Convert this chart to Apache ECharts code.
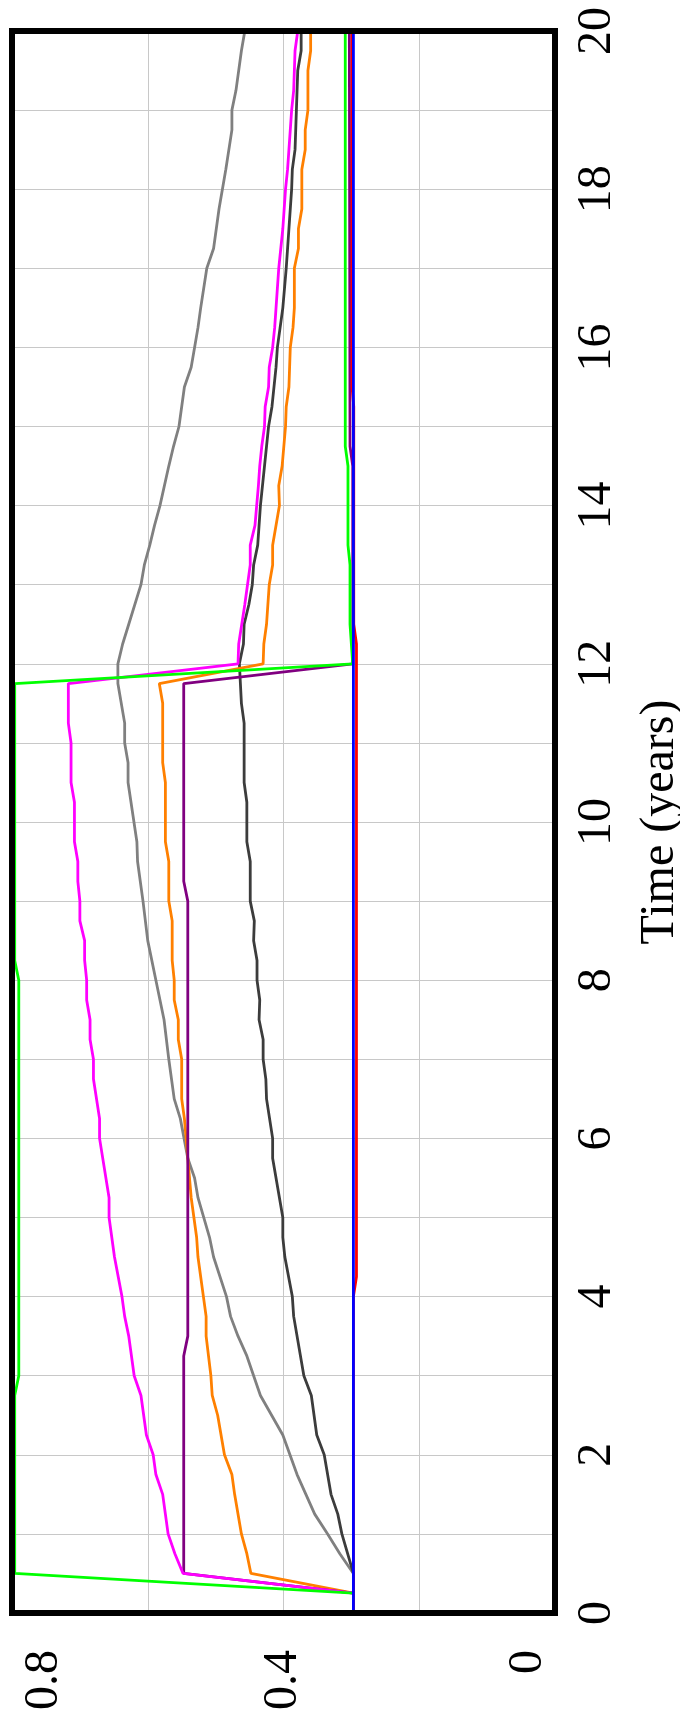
<!DOCTYPE html>
<html>
<head>
<meta charset="utf-8">
<script src="https://cdn.jsdelivr.net/npm/echarts@6/dist/echarts.min.js"></script>
<style>
html,body{margin:0;padding:0;background:#fff;}
#chart{width:680px;height:1725px;}
</style>
</head>
<body>
<div id="chart"></div>
<script>
// Time (years) for each series and the matching values
const grayT  = [0,0.25,0.5,0.75,1,1.25,1.5,1.75,2.25,2.75,3,3.25,3.5,3.75,4,4.5,4.75,5.25,5.5,5.75,6.25,6.5,7,7.5,8,8.5,9,9.5,9.75,10.5,10.75,11,11.25,11.75,12,12.25,12.5,13,13.25,13.5,13.75,14,14.5,14.75,15,15.5,15.75,16,16.25,16.5,17,17.25,17.75,18.25,18.75,19,19.25,19.75,20];
const grayV  = [0.297,0.297,0.297,0.317,0.335,0.354,0.367,0.38,0.401,0.434,0.444,0.454,0.467,0.478,0.484,0.503,0.509,0.526,0.531,0.541,0.552,0.561,0.569,0.576,0.588,0.6,0.607,0.615,0.616,0.629,0.629,0.634,0.634,0.644,0.644,0.637,0.628,0.61,0.605,0.597,0.59,0.582,0.569,0.562,0.554,0.546,0.536,0.531,0.526,0.522,0.513,0.503,0.495,0.485,0.476,0.476,0.47,0.462,0.457];

const darkT  = [0,0.25,0.5,1,1.25,1.5,2,2.25,2.75,3,3.75,4,4.5,4.75,5,5.5,5.75,6,6.5,6.75,7,7.25,7.5,7.75,8,8.25,8.5,8.75,9,9.5,9.75,10.25,10.5,11.25,11.5,12,12.25,12.5,12.75,13,13.25,13.5,14,14.5,15,15.25,15.75,16,16.25,16.5,17,17.5,18,18.25,18.5,19,19.5,19.75,20];
const darkV  = [0.297,0.297,0.297,0.314,0.32,0.33,0.34,0.351,0.359,0.37,0.385,0.387,0.398,0.401,0.401,0.411,0.416,0.416,0.425,0.426,0.43,0.43,0.436,0.435,0.439,0.439,0.444,0.443,0.449,0.449,0.454,0.454,0.458,0.458,0.462,0.465,0.459,0.458,0.451,0.446,0.444,0.438,0.434,0.428,0.422,0.417,0.411,0.409,0.405,0.401,0.396,0.392,0.388,0.387,0.383,0.381,0.379,0.374,0.374];

const orangeT = [0,0.25,0.5,0.75,1,1.5,1.75,2,2.5,2.75,3,3.5,3.75,4,4.5,4.75,5.25,5.75,6.25,6.5,7,7.25,7.5,7.75,8,8.25,8.75,9,9.5,9.75,10.5,10.75,11.5,11.75,12,12.25,12.5,13,13.25,13.5,14,14.25,14.5,15,15.25,15.5,16,16.25,16.5,17,17.25,17.5,17.75,18.25,18.5,18.75,19,19.5,19.75,20];
const orangeV = [0.297,0.297,0.448,0.454,0.462,0.472,0.476,0.487,0.497,0.505,0.507,0.514,0.514,0.518,0.526,0.528,0.536,0.541,0.546,0.55,0.55,0.555,0.555,0.561,0.561,0.564,0.564,0.569,0.569,0.574,0.574,0.578,0.578,0.583,0.43,0.429,0.425,0.421,0.416,0.416,0.406,0.407,0.402,0.397,0.396,0.392,0.39,0.386,0.384,0.384,0.378,0.378,0.373,0.373,0.368,0.368,0.364,0.364,0.36,0.36];

const purpleT = [0,0.25,0.5,3.25,3.5,9,9.25,11.75,12,14.5,14.75,20];
const purpleV = [0.297,0.297,0.547,0.547,0.541,0.541,0.547,0.547,0.298,0.298,0.302,0.303];

const magentaT = [0,0.25,0.5,0.75,1,1.25,1.5,1.75,2,2.25,2.75,3,3.5,3.75,4,4.5,5,5.25,6,6.25,6.75,7,7.25,7.5,7.75,8,8.25,8.5,8.75,9,9.25,9.5,9.75,10.25,10.5,11,11.25,11.75,12,12.25,12.75,13.25,13.5,13.75,14.25,14.5,14.75,15,15.25,15.5,15.75,16,16.25,16.5,17,17.5,18,18.25,18.5,19,19.25,19.75,20];
const magentaV = [0.297,0.297,0.548,0.56,0.57,0.574,0.578,0.588,0.592,0.602,0.61,0.62,0.628,0.634,0.638,0.649,0.657,0.657,0.671,0.671,0.68,0.68,0.685,0.685,0.69,0.69,0.693,0.693,0.7,0.7,0.703,0.703,0.708,0.708,0.713,0.713,0.717,0.717,0.467,0.466,0.457,0.449,0.449,0.442,0.437,0.435,0.432,0.428,0.427,0.422,0.421,0.416,0.413,0.411,0.407,0.401,0.397,0.394,0.392,0.388,0.385,0.383,0.379];

const greenT = [0,0.25,0.5,2.75,3,8,8.25,11.75,12,12.5,13.25,13.5,14.5,14.75,20];
const greenV = [0.297,0.297,0.796,0.796,0.790,0.790,0.796,0.796,0.298,0.302,0.302,0.305,0.305,0.309,0.309];

const redT = [0,4,4.25,12.25,12.5,15.25,15.5,20];
const redV = [0.297,0.297,0.2925,0.2925,0.2965,0.2965,0.299,0.299];

const blueT = [0,20];
const blueV = [0.297,0.297];

// axis ticks
const valueTicks = [0, 0.4, 0.8];
const timeTicks = [0,2,4,6,8,10,12,14,16,18,20];

const FONT = 'Liberation Serif';

function pts(T, V) { return T.map((t, i) => [V[i], t]); }

const lines = [
  { name: 'gray', T: grayT, V: grayV, color: '#808080' },
  { name: 'dark', T: darkT, V: darkV, color: '#3c3c3c' },
  { name: 'orange', T: orangeT, V: orangeV, color: '#ff8000' },
  { name: 'purple', T: purpleT, V: purpleV, color: '#800080' },
  { name: 'magenta', T: magentaT, V: magentaV, color: '#ff00ff' },
  { name: 'green', T: greenT, V: greenV, color: '#00ff00' },
  { name: 'red', T: redT, V: redV, color: '#ff0000' },
  { name: 'blue', T: blueT, V: blueV, color: '#0000ff' }
];

const chart = echarts.init(document.getElementById('chart'), null, { renderer: 'canvas' });
chart.setOption({
  animation: false,
  backgroundColor: '#fff',
  grid: {
    left: 12, right: 125, top: 31, bottom: 112,
    outerBoundsMode: 'none', containLabel: false,
    show: true, borderColor: '#000', borderWidth: 6, backgroundColor: 'transparent', z: 5
  },
  xAxis: {
    type: 'value', min: 0, max: 0.8, interval: 0.2, inverse: true, position: 'bottom',
    axisLine: { show: false }, axisTick: { show: false },
    splitLine: { show: true, showMinLine: false, showMaxLine: false, lineStyle: { color: '#c8c8c8', width: 1 } },
    axisLabel: {
      rotate: 90, margin: 37, fontFamily: FONT, fontSize: 48, color: '#000',
      showMinLabel: true, showMaxLabel: true,
      formatter: function (v) {
        const k = Math.round(v * 10);
        const hit = valueTicks.find(t => Math.round(t * 10) === k);
        if (hit === undefined) return '';
        const s = String(hit);
        if (k === 0) return '{lo|' + s + '}';
        if (k === 8) return '{hi|' + s + '}';
        return '{n|' + s + '}';
      },
      rich: {
        lo: { fontFamily: FONT, fontSize: 48, color: '#000', padding: [0, 0, 54, 0] },
        hi: { fontFamily: FONT, fontSize: 48, color: '#000', padding: [64, 0, 0, 0] },
        n: { fontFamily: FONT, fontSize: 48, color: '#000' }
      }
    }
  },
  yAxis: {
    type: 'value', min: 0, max: 20, interval: 1, position: 'right',
    axisLine: { show: false }, axisTick: { show: false },
    splitLine: { show: true, showMinLine: false, showMaxLine: false, lineStyle: { color: '#c8c8c8', width: 1 } },
    axisLabel: {
      rotate: 90, margin: 18, fontFamily: FONT, fontSize: 48, color: '#000',
      showMinLabel: true, showMaxLabel: true,
      formatter: function (v) { return timeTicks.indexOf(v) >= 0 ? String(v) : ''; }
    },
    name: 'Time (years)', nameLocation: 'middle', nameRotate: 90, nameGap: 81,
    nameTextStyle: { fontFamily: FONT, fontSize: 48, color: '#000' }
  },
  series: lines.map(s => ({
    name: s.name, type: 'line', data: pts(s.T, s.V), showSymbol: false, symbol: 'none',
    lineStyle: { color: s.color, width: 2.8 }, itemStyle: { color: s.color },
    silent: true, clip: true
  }))
});
</script>
</body>
</html>
